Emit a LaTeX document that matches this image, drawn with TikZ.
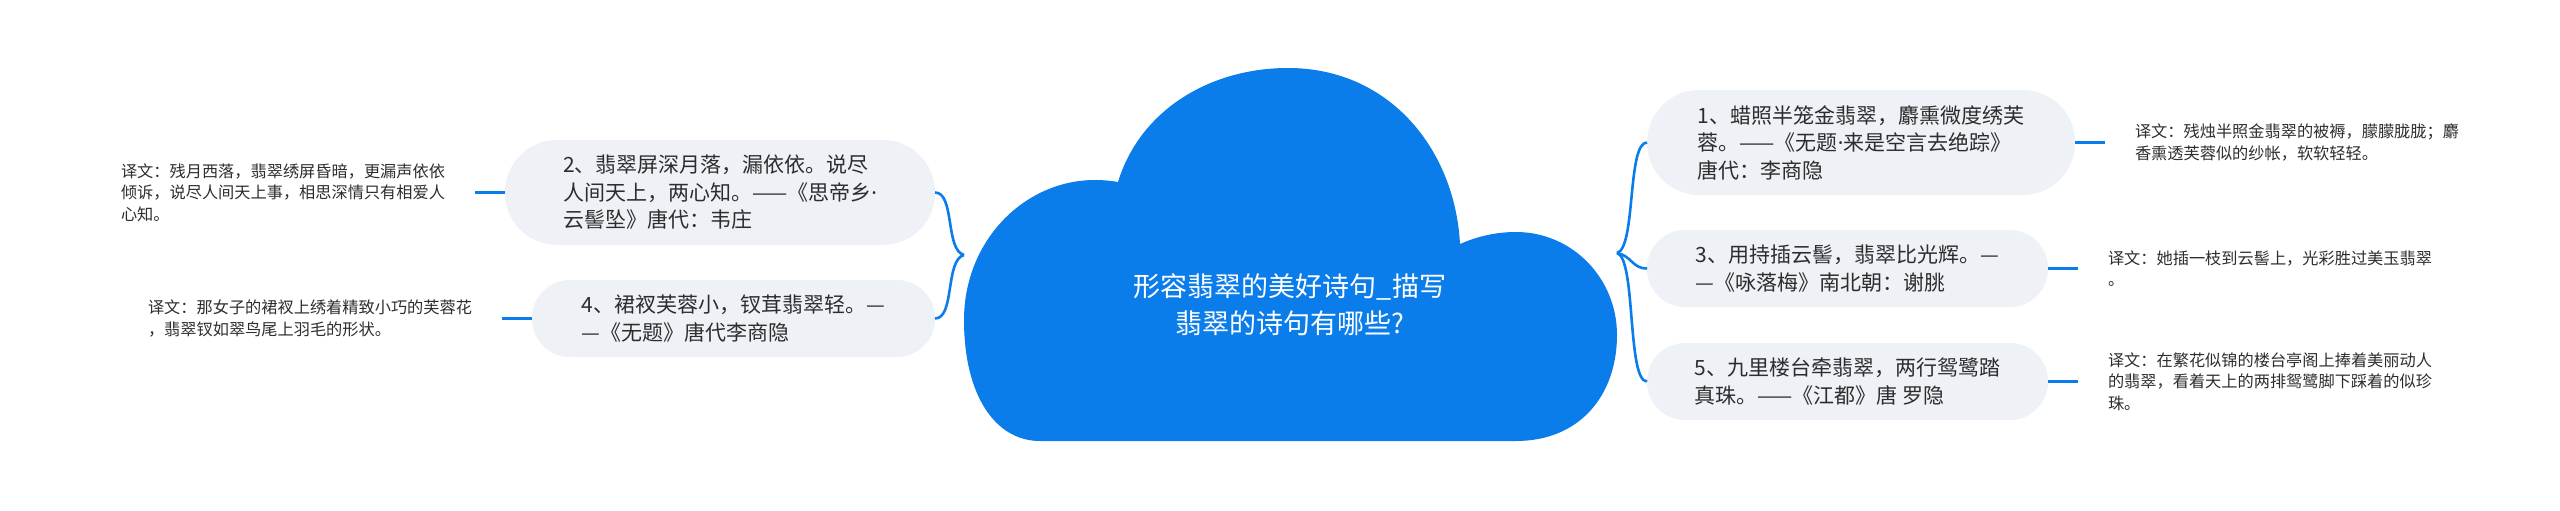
\documentclass[tikz,border=0pt]{standalone}
\usepackage{fontspec}
\setmainfont{Noto Sans CJK SC}
\newfontfamily\narrowdotfont{Noto Sans}
\newcommand\narrowdot{{\narrowdotfont ·}}
\usetikzlibrary{positioning}
\definecolor{cloudblue}{RGB}{10,125,235}
\definecolor{pillgray}{RGB}{238,241,245}
\definecolor{inkgray}{RGB}{45,45,45}

\begin{document}
\begin{tikzpicture}[x=1pt,y=-1pt,% one unit = one pixel, y downwards
        pill/.style={fill=pillgray, align=left, text=inkgray, inner sep=0pt, outer sep=0pt,
                font=\fontsize{21}{27.5}\selectfont},%rounded boxes
        transl/.style={align=left, text=inkgray, inner sep=0pt, outer xsep=30pt,
                font=\fontsize{16.2}{21.5}\selectfont},%notes beside the boxes
        link/.style={draw=cloudblue, line width=2.6pt}]
\useasboundingbox (0,0) rectangle (2560,511);

% the cloud
\fill[cloudblue] (1118,182)
  .. controls (1140,110) and (1210,68) .. (1288,68)
  .. controls (1390,68) and (1455,150) .. (1460,244)
  .. controls (1478,236) and (1497,232) .. (1516,232)
  .. controls (1572,232) and (1617,278) .. (1617,335)
  .. controls (1617,395) and (1580,441) .. (1516,441)
  -- (1040,441)
  .. controls (995,441) and (964,395) .. (964,320)
  .. controls (964,240) and (1025,180) .. (1095,180)
  .. controls (1105,180) and (1112,181) .. (1118,182) -- cycle;
\node[text=white, align=center, font=\fontsize{27}{37}\selectfont] (title) at (1290,305)
  {形容翡翠的美好诗句\_描写\\翡翠的诗句有哪些?};

\coordinate (ltip) at (964,255); % where the left brace meets
\coordinate (rtip) at (1617,253); % where the right brace meets

% left side
\node[pill, minimum width=430pt, minimum height=105pt, rounded corners=52pt] (n2) at (720,192.5)
  {2、翡翠屏深月落，漏依依。说尽\\人间天上，两心知。——《思帝乡\narrowdot\\云髻坠》唐代：韦庄};
\node[pill, minimum width=403pt, minimum height=77pt, rounded corners=38pt] (n4) at (733.5,318.5)
  {4、裙衩芙蓉小，钗茸翡翠轻。—\\—《无题》唐代李商隐};
\node[transl, left=30pt of n2] (t2)
  {译文：残月西落，翡翠绣屏昏暗，更漏声依依\\倾诉，说尽人间天上事，相思深情只有相爱人\\心知。};
\node[transl, left=30pt of n4] (t4)
  {译文：那女子的裙衩上绣着精致小巧的芙蓉花\\，翡翠钗如翠鸟尾上羽毛的形状。};

% right side
\node[pill, minimum width=428pt, minimum height=105pt, rounded corners=52pt] (n1) at (1861,142.5)
  {1、蜡照半笼金翡翠，麝熏微度绣芙\\蓉。——《无题\narrowdot 来是空言去绝踪》\\唐代：李商隐};
\node[pill, minimum width=401pt, minimum height=77pt, rounded corners=38pt] (n3) at (1847.5,268.5)
  {3、用持插云髻，翡翠比光辉。—\\—《咏落梅》南北朝：谢朓};
\node[pill, minimum width=401pt, minimum height=77pt, rounded corners=38pt] (n5) at (1847.5,381.5)
  {5、九里楼台牵翡翠，两行鸳鹭踏\\真珠。——《江都》唐 罗隐};
\node[transl, right=30pt of n1] (t1)
  {译文：残烛半照金翡翠的被褥，朦朦胧胧；麝\\香熏透芙蓉似的纱帐，软软轻轻。};
\node[transl, right=30pt of n3] (t3)
  {译文：她插一枝到云髻上，光彩胜过美玉翡翠\\。};
\node[transl, right=30pt of n5] (t5)
  {译文：在繁花似锦的楼台亭阁上捧着美丽动人\\的翡翠，看着天上的两排鸳鹭脚下踩着的似珍\\珠。};

% braces from the cloud
\draw[link] (ltip) .. controls +(-19,-5) and +(20,0) .. (n2.east);
\draw[link] (ltip) .. controls +(-19,5) and +(20,0) .. (n4.east);
\draw[link] (rtip) .. controls +(19,-5) and +(-20,0) .. (n1.west);
\draw[link] (rtip) .. controls +(15,3) and +(-15,0) .. (n3.west);
\draw[link] (rtip) .. controls +(19,5) and +(-20,0) .. (n5.west);

% short leaders to the notes
\foreach \a/\b in {n2/t2,n4/t4}{ \draw[link] (\a.west) -- (\b.east); }
\foreach \a/\b in {n1/t1,n3/t3,n5/t5}{ \draw[link] (\a.east) -- (\b.west); }

\end{tikzpicture}
\end{document}
